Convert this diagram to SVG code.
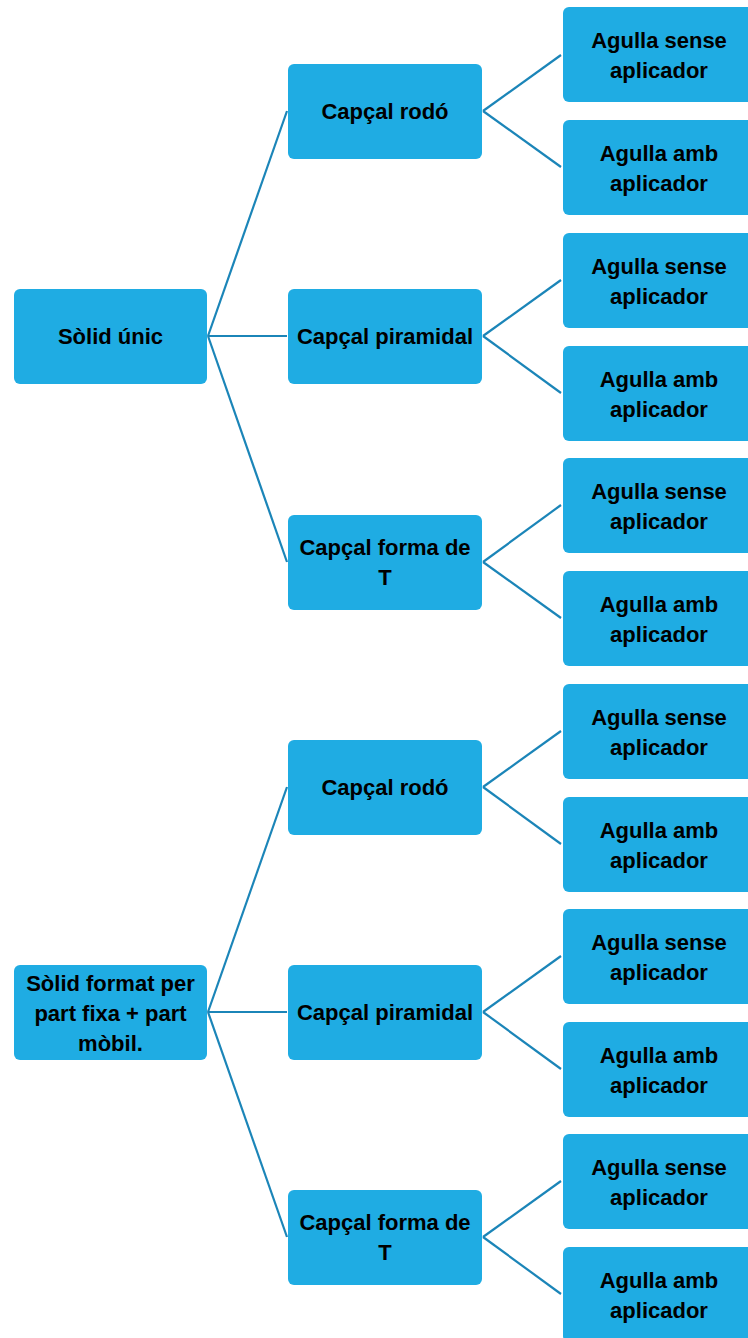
<svg xmlns="http://www.w3.org/2000/svg" width="748" height="1338" viewBox="0 0 748 1338">
<style>
.n{fill:#1FACE3;}
.t{font-family:"Liberation Sans",Arial,sans-serif;font-weight:bold;font-size:22px;fill:#000;text-anchor:middle;dominant-baseline:central;}
.c line{stroke:#1B85B8;stroke-width:2.2;}
</style>
<rect width="748" height="1338" fill="#fff"/>
<g id="connectors" class="c">
<line x1="208" y1="336" x2="287" y2="111"/>
<line x1="208" y1="336" x2="287" y2="336"/>
<line x1="208" y1="336" x2="287" y2="562"/>
<line x1="208" y1="1012" x2="287" y2="787"/>
<line x1="208" y1="1012" x2="287" y2="1012"/>
<line x1="208" y1="1012" x2="287" y2="1237"/>
<line x1="483" y1="111" x2="561" y2="55"/>
<line x1="483" y1="111" x2="561" y2="167"/>
<line x1="483" y1="336" x2="561" y2="280"/>
<line x1="483" y1="336" x2="561" y2="393"/>
<line x1="483" y1="562" x2="561" y2="505"/>
<line x1="483" y1="562" x2="561" y2="618"/>
<line x1="483" y1="787" x2="561" y2="731"/>
<line x1="483" y1="787" x2="561" y2="844"/>
<line x1="483" y1="1012" x2="561" y2="956"/>
<line x1="483" y1="1012" x2="561" y2="1069"/>
<line x1="483" y1="1237" x2="561" y2="1181"/>
<line x1="483" y1="1237" x2="561" y2="1294"/>
</g>
<g id="solid-unic"><rect class="n" x="14" y="289" width="193" height="95" rx="6"/><text class="t" x="110.5" y="336">Sòlid únic</text></g>
<g id="solid-format"><rect class="n" x="14" y="965" width="193" height="95" rx="6"/><text class="t" x="110.5" y="983">Sòlid format per</text><text class="t" x="110.5" y="1013">part fixa + part</text><text class="t" x="110.5" y="1043">mòbil.</text></g>
<g id="rodo1"><rect class="n" x="288" y="64" width="194" height="95" rx="6"/><text class="t" x="385" y="111">Capçal rodó</text></g>
<g id="piramidal1"><rect class="n" x="288" y="289" width="194" height="95" rx="6"/><text class="t" x="385" y="336">Capçal piramidal</text></g>
<g id="formaT1"><rect class="n" x="288" y="515" width="194" height="95" rx="6"/><text class="t" x="385" y="547">Capçal forma de</text><text class="t" x="385" y="577">T</text></g>
<g id="rodo2"><rect class="n" x="288" y="740" width="194" height="95" rx="6"/><text class="t" x="385" y="787">Capçal rodó</text></g>
<g id="piramidal2"><rect class="n" x="288" y="965" width="194" height="95" rx="6"/><text class="t" x="385" y="1012">Capçal piramidal</text></g>
<g id="formaT2"><rect class="n" x="288" y="1190" width="194" height="95" rx="6"/><text class="t" x="385" y="1222">Capçal forma de</text><text class="t" x="385" y="1252">T</text></g>
<g id="a1"><rect class="n" x="563" y="7" width="195" height="95" rx="6"/><text class="t" x="659" y="40">Agulla sense</text><text class="t" x="659" y="70">aplicador</text></g>
<g id="a2"><rect class="n" x="563" y="120" width="195" height="95" rx="6"/><text class="t" x="659" y="153">Agulla amb</text><text class="t" x="659" y="183">aplicador</text></g>
<g id="a3"><rect class="n" x="563" y="233" width="195" height="95" rx="6"/><text class="t" x="659" y="266">Agulla sense</text><text class="t" x="659" y="296">aplicador</text></g>
<g id="a4"><rect class="n" x="563" y="346" width="195" height="95" rx="6"/><text class="t" x="659" y="379">Agulla amb</text><text class="t" x="659" y="409">aplicador</text></g>
<g id="a5"><rect class="n" x="563" y="458" width="195" height="95" rx="6"/><text class="t" x="659" y="491">Agulla sense</text><text class="t" x="659" y="521">aplicador</text></g>
<g id="a6"><rect class="n" x="563" y="571" width="195" height="95" rx="6"/><text class="t" x="659" y="604">Agulla amb</text><text class="t" x="659" y="634">aplicador</text></g>
<g id="a7"><rect class="n" x="563" y="684" width="195" height="95" rx="6"/><text class="t" x="659" y="717">Agulla sense</text><text class="t" x="659" y="747">aplicador</text></g>
<g id="a8"><rect class="n" x="563" y="797" width="195" height="95" rx="6"/><text class="t" x="659" y="830">Agulla amb</text><text class="t" x="659" y="860">aplicador</text></g>
<g id="a9"><rect class="n" x="563" y="909" width="195" height="95" rx="6"/><text class="t" x="659" y="942">Agulla sense</text><text class="t" x="659" y="972">aplicador</text></g>
<g id="a10"><rect class="n" x="563" y="1022" width="195" height="95" rx="6"/><text class="t" x="659" y="1055">Agulla amb</text><text class="t" x="659" y="1085">aplicador</text></g>
<g id="a11"><rect class="n" x="563" y="1134" width="195" height="95" rx="6"/><text class="t" x="659" y="1167">Agulla sense</text><text class="t" x="659" y="1197">aplicador</text></g>
<g id="a12"><rect class="n" x="563" y="1247" width="195" height="95" rx="6"/><text class="t" x="659" y="1280">Agulla amb</text><text class="t" x="659" y="1310">aplicador</text></g>
</svg>
